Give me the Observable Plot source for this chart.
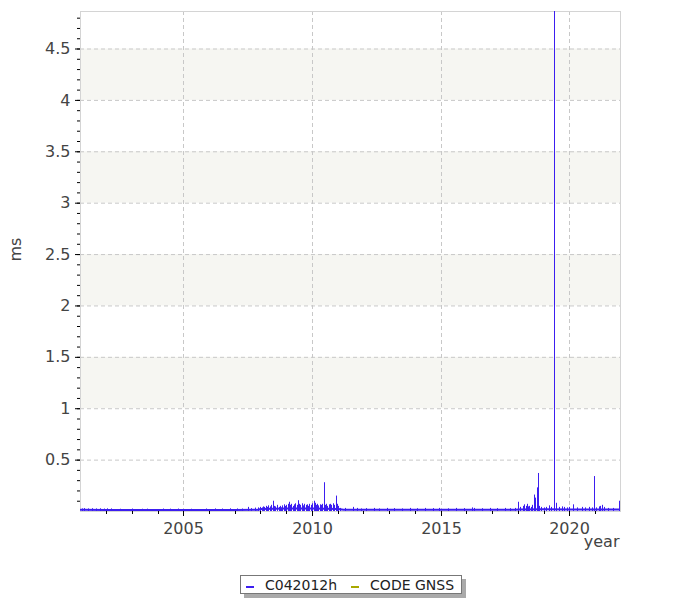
<!DOCTYPE html>
<html><head><meta charset="utf-8">
<script src="https://cdn.jsdelivr.net/npm/d3@7"></script>
<script src="https://cdn.jsdelivr.net/npm/@observablehq/plot@0.6"></script>
<style>
body{margin:0;background:#fff;font-family:"DejaVu Sans",Verdana,sans-serif;}
#wrap{position:relative;width:700px;height:600px;}
#legend{position:absolute;left:240px;top:575px;height:17px;border:1px solid #777;background:#fff;box-shadow:4px 4px 0 #aaa;display:flex;align-items:center;padding:0 7px 0 5px;font-size:14px;color:#222;white-space:nowrap;}
.item{display:flex;align-items:center;margin-right:14px;}
.item:last-child{margin-right:0;}
.sw{display:inline-block;width:8px;height:2px;margin-right:11px;margin-top:5px;}
</style></head><body><div id="wrap"></div>
<script>
// axis ticks / labels
const xTicks = [2005, 2010, 2015, 2020];
const xMinor = [2002,2003,2004,2006,2007,2008,2009,2011,2012,2013,2014,2016,2017,2018,2019,2021];
const yTicks = [0.5, 1, 1.5, 2, 2.5, 3, 3.5, 4, 4.5];
const bandLo = [1, 2, 3, 4];
const bandHi = [1.5, 2.5, 3.5, 4.5];
const seriesNames = ["C042012h", "CODE GNSS"];
const seriesColors = ["#3c1ef0", "#a8a800"];

// baseline of the C042012h series (year, ms)
const baseYear = [2001.0, 2002.0, 2003.0, 2004.0, 2005.0, 2006.0, 2007.0, 2007.9, 2008.0, 2009.0, 2010.0, 2011.0, 2011.2, 2012.0, 2013.0, 2014.0, 2015.0, 2016.0, 2017.0, 2017.9, 2018.0, 2019.0, 2020.0, 2021.0, 2021.97];
const baseMs   = [0.016, 0.015, 0.014, 0.015, 0.014, 0.015, 0.015, 0.016, 0.024, 0.028, 0.028, 0.024, 0.016, 0.016, 0.016, 0.016, 0.016, 0.017, 0.017, 0.017, 0.02, 0.022, 0.02, 0.02, 0.02];

// spikes of the C042012h series (year, ms)
const spikeYear = [2001.05,2001.15,2001.3,2001.45,2001.6,2001.75,2001.9,2002.05,2002.2,2002.55,2003.0,2003.4,2003.6,2004.2,2004.5,2004.8,2005.3,2005.9,2006.25,2006.5,2006.8,2007.1,2007.3,2007.53,2007.65,2007.8,2007.9,
2008.0,2008.05,2008.1,2008.15,2008.2,2008.25,2008.3,2008.35,2008.4,2008.47,2008.52,2008.58,2008.63,2008.7,2008.75,2008.8,2008.85,2008.9,2008.95,2009.0,2009.05,2009.09,2009.14,2009.2,2009.25,2009.3,2009.35,2009.4,2009.44,2009.5,2009.55,2009.6,2009.65,2009.7,2009.75,2009.8,2009.85,2009.9,2009.95,2010.0,2010.06,2010.1,2010.15,2010.2,2010.25,2010.3,2010.35,2010.4,2010.45,2010.5,2010.55,2010.6,2010.65,2010.7,2010.75,2010.8,2010.85,2010.92,2010.97,2011.02,2011.1,
2011.3,2011.6,2011.75,2011.9,2012.1,2012.4,2012.6,2012.9,2013.2,2013.5,2013.8,2014.1,2014.4,2014.7,2014.95,2015.3,2015.6,2015.9,2016.22,2016.3,2016.6,2016.9,2017.2,2017.5,2017.7,2017.9,
2018.0,2018.1,2018.2,2018.24,2018.3,2018.34,2018.4,2018.45,2018.5,2018.55,2018.62,2018.66,2018.73,2018.77,2018.82,2018.9,2019.0,2019.1,2019.21,2019.3,2019.41,2019.48,2019.6,2019.7,2019.8,2019.9,2020.0,2020.13,2020.3,2020.5,2020.6,2020.75,2020.9,2020.96,2021.05,2021.15,2021.2,2021.28,2021.33,2021.5,2021.7,2021.92];
const spikeMs = [0.025,0.028,0.025,0.027,0.025,0.026,0.024,0.026,0.025,0.022,0.024,0.022,0.023,0.024,0.023,0.024,0.022,0.024,0.025,0.024,0.026,0.025,0.024,0.04,0.028,0.033,0.035,
0.04,0.035,0.045,0.04,0.05,0.04,0.055,0.045,0.06,0.1,0.05,0.045,0.06,0.04,0.05,0.035,0.055,0.065,0.05,0.06,0.07,0.09,0.06,0.07,0.05,0.065,0.075,0.06,0.105,0.07,0.06,0.075,0.055,0.07,0.06,0.065,0.05,0.07,0.06,0.075,0.1,0.08,0.06,0.07,0.055,0.065,0.06,0.07,0.28,0.06,0.07,0.05,0.065,0.07,0.06,0.075,0.06,0.15,0.07,0.05,0.03,
0.03,0.04,0.03,0.025,0.028,0.03,0.025,0.03,0.028,0.025,0.03,0.027,0.03,0.028,0.03,0.026,0.03,0.028,0.035,0.03,0.027,0.03,0.028,0.03,0.027,0.03,
0.09,0.04,0.05,0.065,0.05,0.07,0.045,0.05,0.04,0.06,0.16,0.13,0.23,0.37,0.05,0.04,0.035,0.04,0.055,0.04,4.9,0.08,0.04,0.045,0.04,0.035,0.04,0.065,0.035,0.04,0.035,0.04,0.035,0.34,0.035,0.045,0.05,0.06,0.04,0.03,0.03,0.1];

const base = baseYear.map((t, i) => ({t, v: baseMs[i]}));
const spikes = spikeYear.map((t, i) => ({t, v: spikeMs[i]}));
const bands = bandLo.map((lo, i) => ({lo, hi: bandHi[i]}));

const font = "DejaVu Sans, Verdana, sans-serif";
const plot = Plot.plot({
  width: 700, height: 560,
  marginLeft: 80, marginRight: 80, marginTop: 11, marginBottom: 49,
  style: {fontFamily: font, fontSize: "16px", color: "#444", background: "#fff"},
  x: {domain: [2000.986, 2021.97], round: true},
  y: {domain: [0, 4.865]},
  marks: [
    Plot.rect(bands, {y1: "lo", y2: "hi", fill: "#f6f6f2"}),
    Plot.ruleY(yTicks, {stroke: "#c8c8c8", strokeDasharray: "4,3"}),
    Plot.ruleX(xTicks, {stroke: "#c8c8c8", strokeDasharray: "4,3"}),
    Plot.frame({stroke: "#d4d4d4"}),
    Plot.axisY(yTicks, {tickSize: 5, tickPadding: 5, stroke: "#000", fill: "#444", label: null, tickFormat: d => String(d)}),
    Plot.axisY(d3.range(1, 49).map(d => d / 10), {tickSize: 3, stroke: "#000", tickFormat: () => "", label: null}),
    Plot.axisX(xTicks, {tickSize: 5, tickPadding: 6, stroke: "#000", fill: "#444", label: null, tickFormat: d => String(d)}),
    Plot.axisX(xMinor, {tickSize: 3, stroke: "#000", tickFormat: () => "", label: null}),
    Plot.ruleX(spikes, {x: "t", y1: 0, y2: "v", stroke: seriesColors[0], strokeWidth: 1, clip: true}),
    Plot.line(base, {x: "t", y: "v", stroke: seriesColors[0], strokeWidth: 2, clip: true}),
    Plot.text(["ms"], {frameAnchor: "left", dx: -65, rotate: -90, fill: "#444", fontSize: 16}),
    Plot.text(["year"], {frameAnchor: "bottom-right", dx: -1, dy: 35, textAnchor: "end", fill: "#444", fontSize: 16})
  ]
});
const wrap = document.getElementById("wrap");
wrap.appendChild(plot);
const legend = document.createElement("div");
legend.id = "legend";
seriesNames.forEach((name, i) => {
  const it = document.createElement("div");
  it.className = "item";
  const sw = document.createElement("span");
  sw.className = "sw";
  sw.style.background = seriesColors[i];
  it.appendChild(sw);
  it.appendChild(document.createTextNode(name));
  legend.appendChild(it);
});
wrap.appendChild(legend);
</script></body></html>
